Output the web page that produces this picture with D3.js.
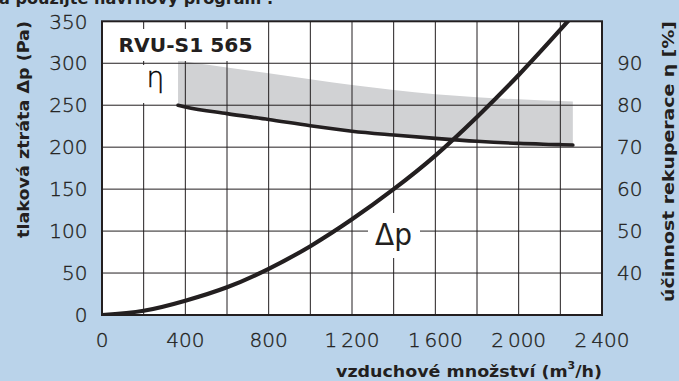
<!DOCTYPE html>
<html>
<head>
<meta charset="utf-8">
<script src="https://cdn.jsdelivr.net/npm/d3@7"></script>
<style>
  html, body { margin: 0; padding: 0; background: #bad3ea; }
  svg { display: block; }
</style>
</head>
<body>
<svg id="chart" width="679" height="381"></svg>
<script>
// Air flow (m3/h) vs. pressure loss of the unit
const pressureFlow = [0, 200, 400, 600, 800, 1000, 1200, 1400, 1600, 1800, 2000, 2200, 2300];
const pressureDrop = [0, 5, 17, 33, 55, 82, 114, 150, 190, 236, 286, 340, 368];

// Heat recovery efficiency (%) – curve and upper band edge
const effFlow = [365, 400, 600, 800, 1000, 1200, 1400, 1600, 1800, 2000, 2200, 2260];
const effValue = [80.0, 79.6, 78.0, 76.6, 75.1, 73.8, 72.9, 72.1, 71.4, 70.9, 70.6, 70.5];
const effUpper = [90.7, 90.4, 89.0, 87.6, 86.2, 84.8, 83.6, 82.6, 81.9, 81.4, 81.0, 80.9];

// Axis ticks
const flowTicks = [0, 400, 800, 1200, 1600, 2000, 2400];
const flowTickLabels = ["0", "400", "800", "1\u2009200", "1\u2009600", "2\u2009000", "2\u2009400"];
const flowGrid = d3.range(200, 2400, 200);
const pressureTicks = [0, 50, 100, 150, 200, 250, 300, 350];
const effTicks = [40, 50, 60, 70, 80, 90];

const svg = d3.select("#chart");
const ink = "#231f20";
const plotL = 102, plotR = 602, plotT = 21.3, plotB = 315;

const x = d3.scaleLinear().domain([0, 2400]).range([plotL, plotR]);
const y = d3.scaleLinear().domain([0, 350]).range([plotB, plotT]);
const yEff = d3.scaleLinear().domain([30, 100]).range([plotB, plotT]);

const thinFont = "'DejaVu Sans', sans-serif";

// heading line cut by the top edge
svg.append("text")
  .attr("x", -1).attr("y", 3.5)
  .attr("font-family", "'DejaVu Sans', sans-serif")
  .attr("font-weight", "bold").attr("font-size", 15)
  .attr("textLength", 274).attr("lengthAdjust", "spacingAndGlyphs")
  .attr("fill", ink)
  .text("a použijte návrhový program .");

// plot background
svg.append("rect")
  .attr("x", plotL).attr("y", plotT)
  .attr("width", plotR - plotL).attr("height", plotB - plotT)
  .attr("fill", "#ffffff");

svg.append("clipPath").attr("id", "plotClip")
  .append("rect")
  .attr("x", plotL).attr("y", plotT)
  .attr("width", plotR - plotL).attr("height", plotB - plotT);

const plot = svg.append("g").attr("clip-path", "url(#plotClip)");

// efficiency band
const band = d3.area()
  .x((d, i) => x(effFlow[i]))
  .y0((d, i) => yEff(effValue[i]))
  .y1((d, i) => yEff(effUpper[i]))
  .curve(d3.curveMonotoneX);
plot.append("path")
  .datum(effFlow)
  .attr("d", band)
  .attr("fill", "#d1d2d4");

// grid
const grid = plot.append("g").attr("stroke", ink).attr("stroke-width", 1);
grid.selectAll("line.v").data(flowGrid).join("line")
  .attr("class", "v")
  .attr("x1", d => x(d)).attr("x2", d => x(d))
  .attr("y1", plotT).attr("y2", plotB);
grid.selectAll("line.h").data(pressureTicks.slice(1, -1)).join("line")
  .attr("class", "h")
  .attr("x1", plotL).attr("x2", plotR)
  .attr("y1", d => y(d)).attr("y2", d => y(d));

// white boxes behind the in-plot labels
plot.append("rect").attr("x", plotL).attr("y", 29).attr("width", 163).attr("height", 32).attr("fill", "#fff");
plot.append("rect").attr("x", 124).attr("y", 65).attr("width", 54).attr("height", 38).attr("fill", "#fff");
plot.append("rect").attr("x", 368).attr("y", 213).attr("width", 52).attr("height", 45).attr("fill", "#fff");

// efficiency curve
const effLine = d3.line()
  .x((d, i) => x(effFlow[i]))
  .y((d, i) => yEff(effValue[i]))
  .curve(d3.curveMonotoneX);
plot.append("path")
  .datum(effFlow)
  .attr("d", effLine)
  .attr("fill", "none")
  .attr("stroke", ink)
  .attr("stroke-width", 3.6)
  .attr("stroke-linecap", "round");

// pressure curve
const pLine = d3.line()
  .x((d, i) => x(pressureFlow[i]))
  .y((d, i) => y(pressureDrop[i]))
  .curve(d3.curveNatural);
plot.append("path")
  .datum(pressureFlow)
  .attr("d", pLine)
  .attr("fill", "none")
  .attr("stroke", ink)
  .attr("stroke-width", 4.2)
  .attr("stroke-linecap", "round");

// in-plot labels
svg.append("text")
  .attr("x", 118.5).attr("y", 52.3)
  .attr("font-family", "'DejaVu Sans', sans-serif")
  .attr("font-weight", "bold").attr("font-size", 19)
  .attr("textLength", 134).attr("lengthAdjust", "spacingAndGlyphs")
  .attr("fill", ink)
  .text("RVU-S1 565");

svg.append("text")
  .attr("x", 146.5).attr("y", 87)
  .attr("font-family", thinFont).attr("font-weight", 200)
  .attr("font-size", 28).attr("fill", "#000")
  .attr("stroke", "#000").attr("stroke-width", 0.4)
  .text("η");

svg.append("text")
  .attr("x", 375).attr("y", 245)
  .attr("font-family", "'DejaVu Sans', sans-serif")
  .attr("font-size", 31).attr("fill", ink)
  .attr("textLength", 37).attr("lengthAdjust", "spacingAndGlyphs")
  .text("Δp");

// plot frame
svg.append("rect")
  .attr("x", plotL).attr("y", plotT)
  .attr("width", plotR - plotL).attr("height", plotB - plotT)
  .attr("fill", "none").attr("stroke", ink).attr("stroke-width", 2);

// tick label styling shared by all three axes
function tickStyle(sel) {
  sel.attr("font-family", thinFont).attr("font-weight", 200)
    .attr("font-size", 20).attr("fill", ink)
    .attr("stroke", ink).attr("stroke-width", 0.35);
}

// left axis labels
svg.append("g").selectAll("text").data(pressureTicks).join("text")
  .attr("x", 87.5).attr("y", d => y(d))
  .attr("dy", "0.36em")
  .attr("text-anchor", "end")
  .call(tickStyle)
  .text(d => d);

// right axis labels
svg.append("g").selectAll("text").data(effTicks).join("text")
  .attr("x", 617).attr("y", d => yEff(d))
  .attr("dy", "0.36em")
  .attr("text-anchor", "start")
  .call(tickStyle)
  .text(d => d);

// bottom axis labels
svg.append("g").selectAll("text").data(flowTicks).join("text")
  .attr("x", d => x(d)).attr("y", 346.5)
  .attr("text-anchor", "middle")
  .call(tickStyle)
  .text((d, i) => flowTickLabels[i]);

// axis titles
svg.append("text")
  .attr("transform", "translate(29,129.5) rotate(-90)")
  .attr("text-anchor", "middle")
  .attr("font-family", "'DejaVu Sans', sans-serif")
  .attr("font-weight", "bold").attr("font-size", 16)
  .attr("textLength", 217).attr("lengthAdjust", "spacingAndGlyphs")
  .attr("fill", ink)
  .text("tlaková ztráta Δp (Pa)");

svg.append("text")
  .attr("transform", "translate(674,161.5) rotate(-90)")
  .attr("text-anchor", "middle")
  .attr("font-family", "'DejaVu Sans', sans-serif")
  .attr("font-weight", "bold").attr("font-size", 16)
  .attr("textLength", 281).attr("lengthAdjust", "spacingAndGlyphs")
  .attr("fill", ink)
  .text("účinnost rekuperace η [%]");

const xTitle = svg.append("text")
  .attr("x", 336).attr("y", 377)
  .attr("font-family", "'DejaVu Sans', sans-serif")
  .attr("font-weight", "bold").attr("font-size", 16)
  .attr("textLength", 266).attr("lengthAdjust", "spacingAndGlyphs")
  .attr("fill", ink);
xTitle.append("tspan").text("vzduchové množství (m");
xTitle.append("tspan").attr("font-size", 10).attr("dy", -8).text("3");
xTitle.append("tspan").attr("dy", 8).text("/h)");
</script>
</body>
</html>
